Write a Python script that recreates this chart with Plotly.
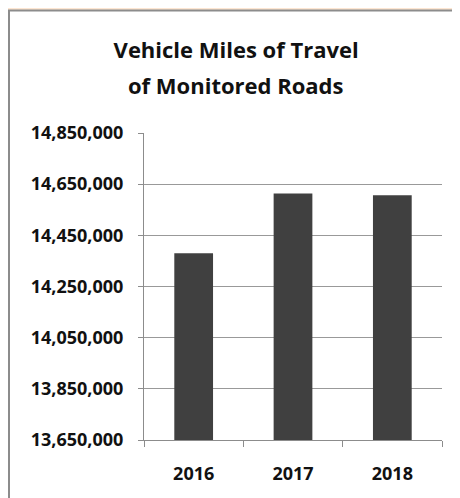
import plotly.graph_objects as go

years = ["2016", "2017", "2018"]
miles = [14380000, 14614000, 14607000]
y_ticks = [13650000, 13850000, 14050000, 14250000, 14450000, 14650000, 14850000]
y_labels = [f"{v:,}" for v in y_ticks]
title_lines = ["Vehicle Miles of Travel", "of Monitored Roads"]

FONT = "Open Sans"
GRAY = "#8c8c8c"

fig = go.Figure()

fig.add_trace(go.Bar(
    x=years,
    y=miles,
    marker=dict(color="#404040", line=dict(width=0)),
    width=0.39,
    showlegend=False,
))

fig.update_layout(
    width=460,
    height=498,
    margin=dict(l=136, r=26, t=125, b=66),
    paper_bgcolor="#fde6d2",
    plot_bgcolor="rgba(0,0,0,0)",
    font=dict(family=FONT, color="#111111"),
    title=dict(
        text=f"<b>{title_lines[0]}</b>",
        x=0.496, xref="container", xanchor="center",
        y=0.9157, yref="container", yanchor="middle",
        font=dict(size=22, family=FONT, color="#111111"),
    ),
    annotations=[dict(
        text=f"<b>{title_lines[1]}</b>",
        x=0.3087, xref="paper", xanchor="center",
        y=1.1564, yref="paper", yanchor="middle",
        showarrow=False,
        font=dict(size=22, family=FONT, color="#111111"),
    )],
    shapes=[dict(
        type="rect", xref="paper", yref="paper",
        x0=-0.453, x1=1.3, y0=-0.4, y1=1.399,
        fillcolor="white", line=dict(color=GRAY, width=2),
        layer="below",
    )],
)

fig.update_xaxes(
    showline=True, linecolor=GRAY, linewidth=1,
    ticks="outside", tickson="boundaries", ticklen=6, tickcolor=GRAY,
    tickfont=dict(size=18, family=FONT, color="#111111", weight="bold"),
    ticklabelstandoff=17,
    showgrid=False,
)
fig.update_yaxes(
    range=[13650000, 14850000],
    tickvals=y_ticks, ticktext=y_labels,
    showline=True, linecolor=GRAY, linewidth=1,
    ticks="outside", ticklen=5, tickcolor=GRAY,
    showgrid=True, gridcolor="#999999", gridwidth=1,
    tickfont=dict(size=18, family=FONT, color="#111111", weight="bold"),
    ticklabelstandoff=11,
    zeroline=False,
)

fig.write_html("out.html")
